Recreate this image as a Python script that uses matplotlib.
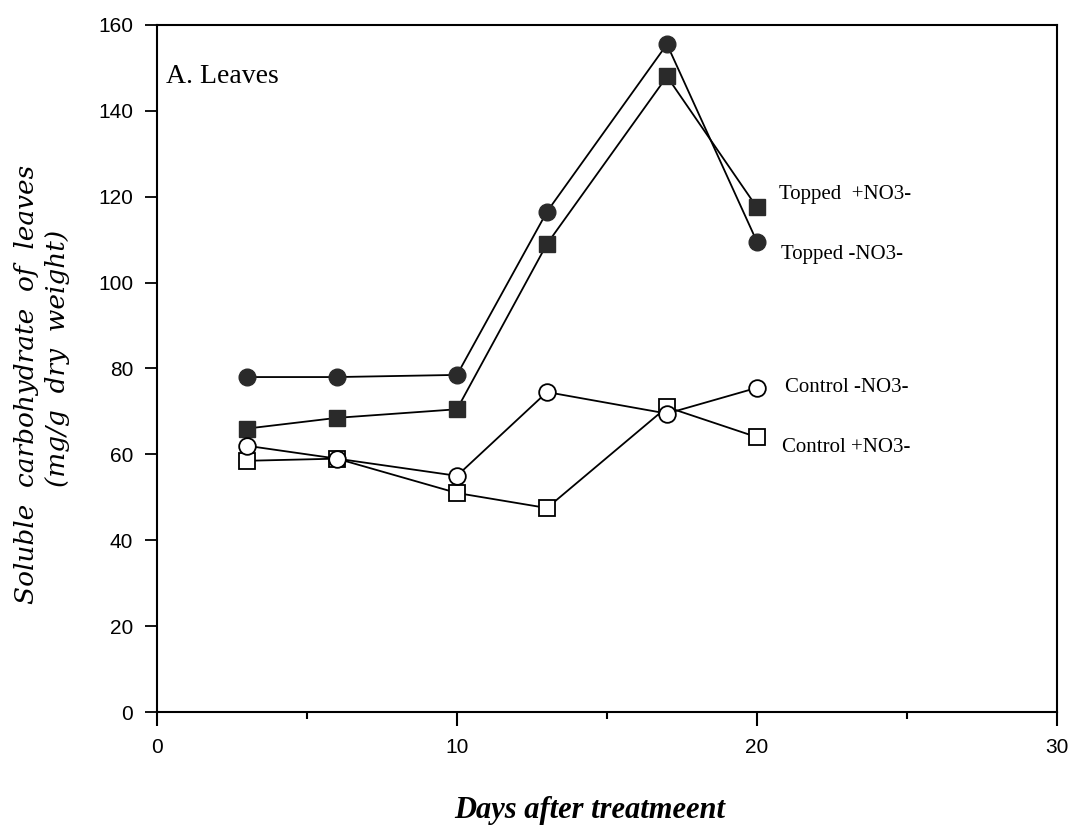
import matplotlib
matplotlib.use('Agg')
import matplotlib.pyplot as plt

# 資料
days = [3, 6, 10, 13, 17, 20]
topped_minus = [78, 78, 78.5, 116.5, 155.5, 109.5]   # Topped -NO3-
topped_plus = [66, 68.5, 70.5, 109, 148, 117.5]      # Topped +NO3-
control_minus = [62, 59, 55, 74.5, 69.5, 75.5]       # Control -NO3-
control_plus = [58.5, 59, 51, 47.5, 71, 64]          # Control +NO3-

series_labels = ['Topped  +NO3-', 'Topped -NO3-', 'Control -NO3-', 'Control +NO3-']
label_pos = [(20.75, 120.5), (20.8, 106.5), (20.95, 75.5), (20.85, 61.5)]

xticks = [0, 10, 20, 30]
xticks_minor = [5, 15, 25]
yticks = [0, 20, 40, 60, 80, 100, 120, 140, 160]

serif = ['Liberation Serif', 'DejaVu Serif']
wide_serif = ['DejaVu Serif', 'Liberation Serif']
sans = ['Liberation Sans', 'DejaVu Sans']

fig = plt.figure(figsize=(10.81, 8.31), dpi=100)
ax = fig.add_axes([0.1452, 0.1432, 0.8326, 0.8268])

dark = '#2a2a2a'
ms = 12
lw = 1.3

ax.plot(days, topped_minus, '-o', color='black', lw=lw, ms=ms, mfc=dark, mec=dark, zorder=3)
ax.plot(days, topped_plus, '-s', color='black', lw=lw, ms=ms - 0.5, mfc=dark, mec=dark, zorder=3)
ax.plot(days, control_plus, '-s', color='black', lw=lw, ms=ms - 0.5, mfc='white', mec='black', mew=1.3, zorder=4)
ax.plot(days, control_minus, '-o', color='black', lw=lw, ms=ms, mfc='white', mec='black', mew=1.3, zorder=5)

# 曲線旁的文字
for txt, (x, y) in zip(series_labels, label_pos):
    ax.text(x, y, txt, family=serif, fontsize=15, va='center', ha='left')

ax.text(0.3, 148, 'A. Leaves', family=serif, fontsize=20, va='center', ha='left')

ax.set_xlim(0, 30)
ax.set_ylim(0, 160)
ax.set_xticks(xticks)
ax.set_xticks(xticks_minor, minor=True)
ax.set_yticks(yticks)
ax.set_xticklabels([str(t) for t in xticks], family=sans, fontsize=15)
ax.set_yticklabels([str(t) for t in yticks], family=sans, fontsize=15)
ax.tick_params(axis='x', which='major', direction='out', length=10, width=1.5, pad=9)
ax.tick_params(axis='x', which='minor', direction='out', length=5, width=1.5)
ax.tick_params(axis='y', direction='out', length=9, width=1.3, pad=8)

for s in ax.spines.values():
    s.set_linewidth(1.5)

ax.set_xlabel('Days after treatmeent', family=serif, fontsize=22, style='italic',
              weight='bold')
ax.xaxis.set_label_coords(0.481, -0.122)

# y軸標題 兩行 (第二行位置偏上)
ax.set_ylabel('Soluble  carbohydrate  of  leaves', family=wide_serif,
              fontsize=19, style='italic')
ax.yaxis.set_label_coords(-0.131, 0.477)
ax.text(-0.097, 0.515, '(mg/g  dry  weight)', transform=ax.transAxes, family=wide_serif,
        fontsize=19, style='italic', rotation=90, rotation_mode='anchor',
        ha='center', va='bottom')

fig.savefig('out.png', dpi=100)
